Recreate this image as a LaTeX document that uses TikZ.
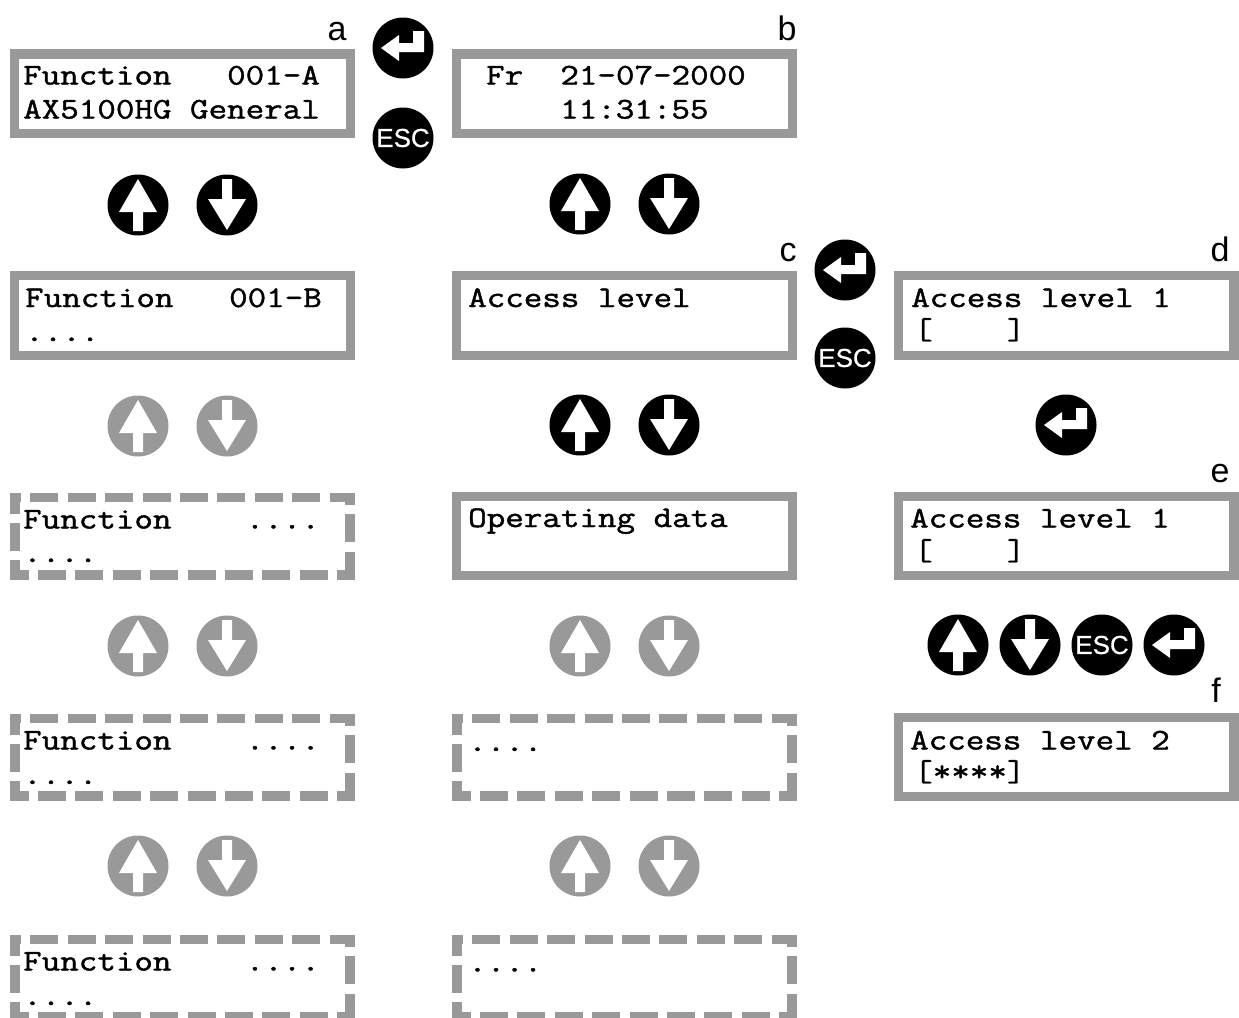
\documentclass[tikz,border=0pt]{standalone}
\usepackage{fontspec}
\setmainfont{Liberation Sans}
\newfontfamily\lcdfont[FakeStretch=1.2,FakeBold=1.4]{Latin Modern Mono}
\newfontfamily\escfont[FakeBold=0.6]{Liberation Sans}
\newcommand{\lcdopen}{\makebox[18.55pt]{\fontsize{30}{30}\selectfont[}}
\newcommand{\lcdclose}{\makebox[18.55pt]{\fontsize{30}{30}\selectfont]}}
\definecolor{keygrey}{gray}{0.6}
\tikzset{
	lcdbox/.style={draw=keygrey, line width=9.4pt, inner sep=0pt, minimum width=335.6pt, minimum height=79.5pt},
	lcdtext/.style={anchor=base west, inner sep=0pt, font=\fontsize{30}{30}\selectfont\lcdfont},
	letter/.style={inner sep=0pt, font=\fontsize{34}{34}\selectfont},
	esctext/.style={inner sep=0pt, text=white, font=\fontsize{26}{26}\selectfont\escfont},
	pics/upkey/.style={code={
		\fill[#1] (0,0) circle (30.5);
		\fill[white] (0,-26) -- (19,7) -- (5,7) -- (5,26) -- (-5,26) -- (-5,7) -- (-19,7) -- cycle;
	}},
	pics/downkey/.style={code={
		\fill[#1] (0,0) circle (30.5);
		\fill[white] (0,25) -- (19,-6) -- (5,-6) -- (5,-26) -- (-5,-26) -- (-5,-6) -- (-19,-6) -- cycle;
	}},
	pics/enterkey/.style={code={
		\fill[black] (0,0) circle (30.5);
		\fill[white] (-22,0) -- (-4,-13) -- (-4,-5) -- (10,-5) -- (10,-17) -- (21,-17) -- (21,4) -- (-4,4) -- (-4,13) -- cycle;
	}},
	pics/esckey/.style={code={
		\fill[black] (0,0) circle (30.5);
		\node[esctext] {ESC};
	}},
	pics/dashbox/.style={code={
		\draw[keygrey, line width=9.4pt, dash pattern=on 28pt off 9.4pt, dash phase=7pt] (-167.5,-43.5) -- (-167.5,38.8) -- (172.5,38.8);
		\draw[keygrey, line width=9.4pt, dash pattern=on 28pt off 9.4pt] (167.5,43.5) -- (167.5,-38.8) -- (-172.5,-38.8);
	}},
}
\begin{document}
\begin{tikzpicture}[x=1pt, y=-1pt]
	\useasboundingbox (0,0) rectangle (1239,1017);
	% left column
	\node[lcdbox] (a) at (182.5,93.7) {};
	\node[lcdbox] (fb) at (182.5,315.5) {};
	\pic (fc) at (182.5,536) {dashbox};
	\pic (fd) at (182.5,757) {dashbox};
	\pic (fe) at (182.5,978) {dashbox};
	\node[lcdtext] (a1) at (23,84.5) {Function\ \ \ 001-A};
	\node[lcdtext] (a2) at (23,118.5) {AX5100HG General};
	\node[lcdtext] (fb1) at (25,307) {Function\ \ \ 001-B};
	\node[lcdtext] (fb2) at (25,341) {....};
	\node[lcdtext] (fc1) at (23,528.5) {Function\ \ \ \ ....};
	\node[lcdtext] (fc2) at (23,562) {....};
	\node[lcdtext] (fd1) at (23,749.5) {Function\ \ \ \ ....};
	\node[lcdtext] (fd2) at (23,784) {....};
	\node[lcdtext] (fe1) at (23,970.5) {Function\ \ \ \ ....};
	\node[lcdtext] (fe2) at (23,1005) {....};
	\pic (up1) at (138,205) {upkey=black};
	\pic (down1) at (227,205) {downkey=black};
	\pic (up2) at (138,426) {upkey=keygrey};
	\pic (down2) at (227,426) {downkey=keygrey};
	\pic (up3) at (138,646) {upkey=keygrey};
	\pic (down3) at (227,646) {downkey=keygrey};
	\pic (up4) at (138,866) {upkey=keygrey};
	\pic (down4) at (227,866) {downkey=keygrey};
	% middle column
	\node[lcdbox] (b) at (624.5,93.7) {};
	\node[lcdbox] (c) at (624.5,315.5) {};
	\node[lcdbox] (op) at (624.5,536) {};
	\pic (gd) at (624.5,757) {dashbox};
	\pic (ge) at (624.5,978) {dashbox};
	\node[lcdtext] (b1) at (486,84.5) {Fr\ \ 21-07-2000};
	\node[lcdtext] (b2) at (560,118.5) {11:31:55};
	\node[lcdtext] (c1) at (468,307) {Access level};
	\node[lcdtext] (op1) at (468,527) {Operating data};
	\node[lcdtext] (gd1) at (468,751) {....};
	\node[lcdtext] (ge1) at (468,971.5) {....};
	\pic (up5) at (580,204) {upkey=black};
	\pic (down5) at (669,204) {downkey=black};
	\pic (up6) at (580,425) {upkey=black};
	\pic (down6) at (669,425) {downkey=black};
	\pic (up7) at (580,646) {upkey=keygrey};
	\pic (down7) at (669,646) {downkey=keygrey};
	\pic (up8) at (580,866) {upkey=keygrey};
	\pic (down8) at (669,866) {downkey=keygrey};
	% right column
	\node[lcdbox] (d) at (1066,315.5) {};
	\node[lcdbox] (e) at (1066,536) {};
	\node[lcdbox] (f) at (1066,757) {};
	\node[lcdtext] (d1) at (911,307) {Access level 1};
	\node[lcdtext] (d2) at (914,339) {\lcdopen\ \ \ \ \lcdclose};
	\node[lcdtext] (e1) at (910,527.5) {Access level 1};
	\node[lcdtext] (e2) at (914,560) {\lcdopen\ \ \ \ \lcdclose};
	\node[lcdtext] (f1) at (910,749.5) {Access level 2};
	\node[lcdtext] (f2) at (914,781) {\lcdopen****\lcdclose};
	\pic (enter3) at (1066,425) {enterkey};
	\pic (up9) at (958,645) {upkey=black};
	\pic (down9) at (1030,645) {downkey=black};
	\pic (esc3) at (1102,645) {esckey};
	\pic (enter4) at (1174,645) {enterkey};
	% keys between the columns
	\pic (enter1) at (403,48) {enterkey};
	\pic (esc1) at (403,138) {esckey};
	\pic (enter2) at (845,270) {enterkey};
	\pic (esc2) at (845,358) {esckey};
	% letters
	\node[letter, anchor=base] (la) at (337,40) {a};
	\node[letter, anchor=base] (lb) at (787,40) {b};
	\node[letter, anchor=base] (lc) at (788,261) {c};
	\node[letter, anchor=base] (ld) at (1220,261) {d};
	\node[letter, anchor=base] (le) at (1220,482) {e};
	\node[letter, anchor=base] (lf) at (1216,702) {f};
\end{tikzpicture}
\end{document}
